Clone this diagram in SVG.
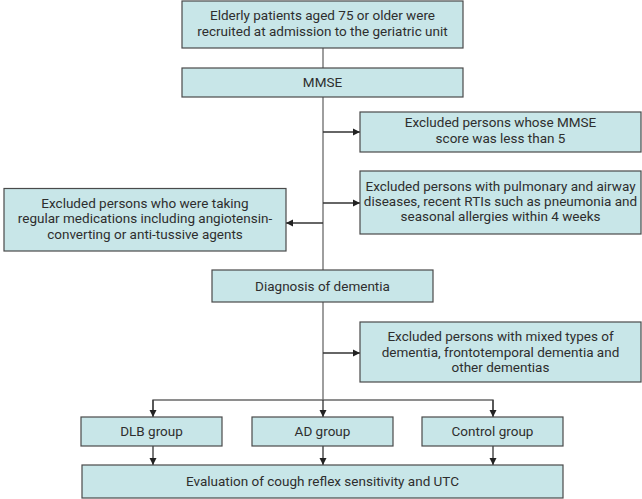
<svg xmlns="http://www.w3.org/2000/svg" width="642" height="499" viewBox="0 0 642 499">
<defs>
<marker id="ah" markerWidth="8" markerHeight="8" refX="7" refY="4" orient="auto" markerUnits="userSpaceOnUse">
<path d="M0,0.5 L7,4 L0,7.5 Z" fill="#222"/>
</marker>
<style>
.box{fill:#c8e6e8;stroke:#4a4a4a;stroke-width:1.2}
.ln{stroke:#6a6a6a;stroke-width:1.3;fill:none}
.ar{stroke:#333;stroke-width:1.3;fill:none;marker-end:url(#ah)}
text{font-family:"Roboto","Liberation Sans",sans-serif;font-size:13.5px;fill:#2e2e2e;text-anchor:middle}
</style>
</defs>
<g id="connectors">
<line class="ln" x1="323" y1="48" x2="323" y2="68"/>
<line class="ln" x1="323" y1="97" x2="323" y2="270"/>
<line class="ar" x1="323" y1="132" x2="360" y2="132"/>
<line class="ar" x1="323" y1="203" x2="360" y2="203"/>
<line class="ar" x1="323" y1="223" x2="286" y2="223"/>
<line class="ln" x1="323" y1="302" x2="323" y2="400"/>
<line class="ar" x1="323" y1="353" x2="360" y2="353"/>
<polyline class="ln" points="153,410 153,400 493,400 493,410"/>
<line class="ar" x1="153" y1="400" x2="153" y2="417"/>
<line class="ar" x1="323" y1="400" x2="323" y2="417"/>
<line class="ar" x1="493" y1="400" x2="493" y2="417"/>
<line class="ar" x1="153" y1="446" x2="153" y2="465"/>
<line class="ar" x1="323" y1="446" x2="323" y2="465"/>
<line class="ar" x1="493" y1="446" x2="493" y2="465"/>
</g>
<g id="recruit">
<rect class="box" x="182" y="1" width="281" height="47"/>
<text x="322.5" y="20">Elderly patients aged 75 or older were</text>
<text x="322.5" y="35.5">recruited at admission to the geriatric unit</text>
</g>
<g id="mmse">
<rect class="box" x="182" y="68" width="281" height="29"/>
<text x="322.5" y="87">MMSE</text>
</g>
<g id="excl-mmse">
<rect class="box" x="360" y="112" width="281" height="40"/>
<text x="500.5" y="127">Excluded persons whose MMSE</text>
<text x="500.5" y="142.5">score was less than 5</text>
</g>
<g id="excl-pulm">
<rect class="box" x="360" y="171" width="281" height="63"/>
<text x="500.5" y="190.5">Excluded persons with pulmonary and airway</text>
<text x="500.5" y="205.5">diseases, recent RTIs such as pneumonia and</text>
<text x="500.5" y="221">seasonal allergies within 4 weeks</text>
</g>
<g id="excl-med">
<rect class="box" x="4" y="188.5" width="282" height="62.5"/>
<text x="145" y="207.5">Excluded persons who were taking</text>
<text x="145" y="223">regular medications including angiotensin-</text>
<text x="145" y="238.5">converting or anti-tussive agents</text>
</g>
<g id="diagnosis">
<rect class="box" x="212" y="270" width="221" height="32"/>
<text x="322.5" y="290.5">Diagnosis of dementia</text>
</g>
<g id="excl-mixed">
<rect class="box" x="360" y="322" width="281" height="60"/>
<text x="500.5" y="341">Excluded persons with mixed types of</text>
<text x="500.5" y="356.5">dementia, frontotemporal dementia and</text>
<text x="500.5" y="372">other dementias</text>
</g>
<g id="dlb">
<rect class="box" x="81" y="417" width="141" height="29"/>
<text x="151.5" y="436">DLB group</text>
</g>
<g id="ad">
<rect class="box" x="252" y="417" width="141" height="29"/>
<text x="322.5" y="436">AD group</text>
</g>
<g id="control">
<rect class="box" x="422" y="417" width="141" height="29"/>
<text x="492.5" y="436">Control group</text>
</g>
<g id="evaluation">
<rect class="box" x="82" y="465" width="481" height="33"/>
<text x="322.5" y="486">Evaluation of cough reflex sensitivity and UTC</text>
</g>
</svg>
